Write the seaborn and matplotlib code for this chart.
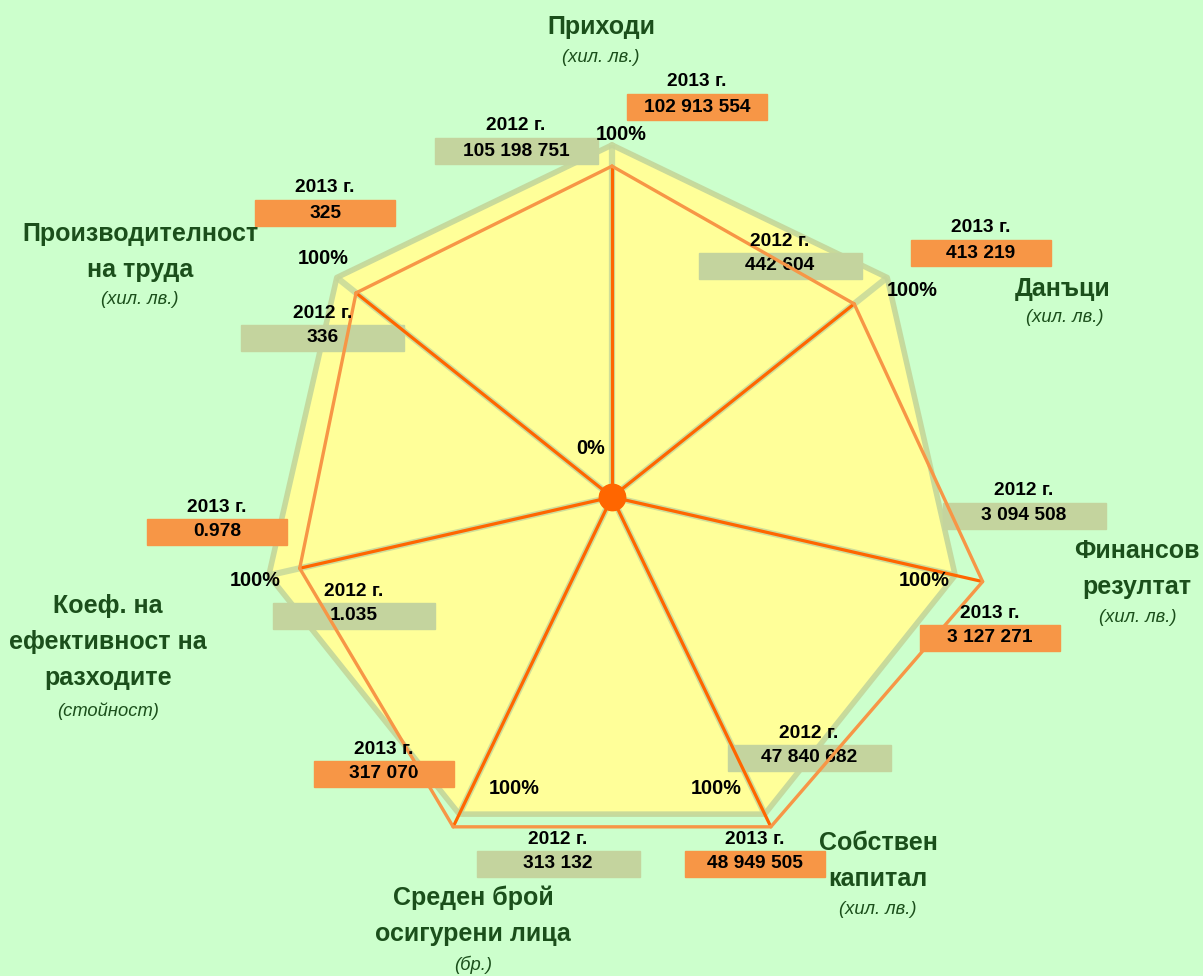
import numpy as np
import pandas as pd
import matplotlib.pyplot as plt
import seaborn as sns
from matplotlib.patches import Rectangle

# данни
categories = ["Приходи", "Данъци", "Финансов\nрезултат", "Собствен\nкапитал",
              "Среден брой\nосигурени лица", "Коеф. на\nефективност на\nразходите",
              "Производителност\nна труда"]
units = ["(хил. лв.)", "(хил. лв.)", "(хил. лв.)", "(хил. лв.)", "(бр.)",
         "(стойност)", "(хил. лв.)"]
values_2012 = ["105 198 751", "442 604", "3 094 508", "47 840 682", "313 132",
               "1.035", "336"]
values_2013 = ["102 913 554", "413 219", "3 127 271", "48 949 505", "317 070",
               "0.978", "325"]
# относителни стойности (2012 = 100%), отчетени от графиката
share_2012 = [1.0, 1.0, 1.0, 1.0, 1.0, 1.0, 1.0]
share_2013 = [0.94, 0.88, 1.08, 1.04, 1.04, 0.91, 0.93]

W, H = 1203, 976
BG = "#CCFFCC"
YELLOW = "#FFFF99"
GREEN = "#C3D69B"
ORANGE = "#F79646"
DARK_OR = "#FF6600"
TXT_GREEN = "#1B4F1B"

sns.set_theme(style="white")
plt.rcParams["font.family"] = ["Liberation Sans", "DejaVu Sans"]


def fx(x):
    return x / W


def fy(y):
    return 1 - y / H


n = len(categories)
theta = np.arange(n) * 2 * np.pi / n
df = pd.DataFrame({"theta": np.append(theta, theta[0]),
                   "r2012": share_2012 + share_2012[:1],
                   "r2013": share_2013 + share_2013[:1]})

fig = plt.figure(figsize=(W / 100, H / 100), dpi=100, facecolor=BG)
# центърът на диаграмата ~ (612, 497) px, 100% ~ 352 px
cx, cy, r100, rmax = 612, 497, 352, 1.2
R = r100 * rmax
ax = fig.add_axes([fx(cx - R), fy(cy + R), 2 * R / W, 2 * R / H], projection="polar")
ax.set_theta_offset(np.pi / 2)
ax.set_theta_direction(-1)
ax.set_ylim(0, rmax)
ax.set_facecolor("none")
ax.axis("off")

# 2012
ax.fill(df["theta"], df["r2012"], color=YELLOW, zorder=1)
for t, r in zip(theta, share_2012):
    ax.plot([t, t], [0, r], color=GREEN, lw=4.5, alpha=0.8, zorder=2,
            solid_capstyle="butt")
ax.plot(df["theta"], df["r2012"], color=GREEN, lw=4, alpha=0.9, zorder=2)

# 2013
for t, r in zip(theta, share_2013):
    ax.plot([t, t], [0, r], color=DARK_OR, lw=2.3, zorder=5)
sns.lineplot(data=df, x="theta", y="r2013", sort=False, color=ORANGE, lw=2.4,
             ax=ax, zorder=5, estimator=None)
ax.plot([0], [0], "o", ms=19, color=DARK_OR, zorder=6, clip_on=False)
ax.set_xlabel("")
ax.set_ylabel("")

# надписи на осите
cat_pos = [(601, 27), (1063, 289), (1137, 551), (878, 843), (473, 898),
           (108, 606), (140, 234)]
unit_pos = [(601, 57), (1065, 318), (1138, 618), (878, 910), (473, 965),
            (108, 711), (140, 300)]
for name, u, (x, y), (ux, uy) in zip(categories, units, cat_pos, unit_pos):
    for i, line in enumerate(name.split("\n")):
        fig.text(fx(x), fy(y + i * 36), line, ha="center", va="center",
                 fontsize=18, fontweight="bold", color=TXT_GREEN)
    fig.text(fx(ux), fy(uy), u, ha="center", va="center", fontsize=13.2,
             fontstyle="italic", color=TXT_GREEN)

# етикети със стойности: (x център, y горе на кутията)
box13 = [(697, 94), (981, 240), (990, 625), (755, 851), (384, 761),
         (217, 519), (325, 200)]
box12 = [(516, 138), (780, 253), (1024, 503), (809, 745), (558, 851),
         (354, 603), (323, 325)]


def data_label(x, ytop, year, val, color, w):
    ax.add_patch(Rectangle((fx(x - w / 2), fy(ytop + 26)), w / W, 26 / H,
                           transform=fig.transFigure, color=color,
                           clip_on=False, zorder=4))
    ax.text(fx(x), fy(ytop + 13), val, transform=fig.transFigure, ha="center",
            va="center", fontsize=13.8, fontweight="bold", color="black",
            zorder=4.5, clip_on=False)
    ax.text(fx(x), fy(ytop - 12), year, transform=fig.transFigure,
            ha="center", va="center", fontsize=13.8, fontweight="bold",
            color="black", zorder=7, clip_on=False)


for (x, y), v in zip(box13, values_2013):
    data_label(x, y, "2013 г.", v, ORANGE, 140)
for (x, y), v in zip(box12, values_2012):
    data_label(x, y, "2012 г.", v, "#C4D49E", 163)

# процентни етикети
pct_pos = [(621, 134), (912, 290), (924, 581), (716, 788), (514, 788),
           (255, 581), (323, 258)]
for x, y in pct_pos:
    ax.text(fx(x), fy(y), "100%", transform=fig.transFigure, ha="center",
            va="center", fontsize=14.3, fontweight="bold", color="black",
            zorder=8, clip_on=False)
ax.text(fx(591), fy(449), "0%", transform=fig.transFigure, ha="center",
        va="center", fontsize=14.3, fontweight="bold", color="black",
        zorder=8, clip_on=False)

fig.savefig("out.png", dpi=100, facecolor=BG)
